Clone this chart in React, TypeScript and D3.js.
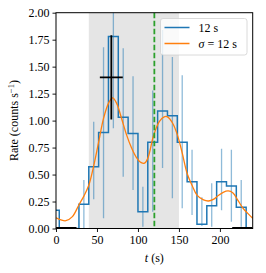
import React, { useRef, useEffect } from "react";
import * as d3 from "d3";

// histogram bins (12 s wide, left edges in s) and rates
const binStarts = [-8, 4, 16, 28, 40, 52, 64, 76, 88, 100, 112, 124, 136, 148, 160, 172, 184, 196, 208, 220, 232];
const binWidth = 12;
const rates = [0.17, 0, 0, 0.224, 0.573, 0.89, 1.78, 1.03, 0.88, 0.156, 0.8, 1.09, 1.045, 0.8, 0.434, 0.04, 0.21, 0.434, 0.394, 0.196, 0];
const errLow = [null, null, null, 0.0, 0.27, 0.095, 0.93, 0.48, 0.357, 0.017, 0.156, 0.56, 0.28, 0.187, 0.125, 0.023, 0.017, 0.17, 0.063, 0.017, null];
const errHigh = [null, null, null, 0.45, 0.99, 1.68, 2.63, 1.67, 1.41, 0.387, 1.28, 1.84, 1.59, 1.42, 0.73, 0.29, 0.42, 0.74, 0.73, 0.45, null];

// smoothed rate, sigma = 12 s
const smoothT = [0, 6, 12, 20, 28, 34, 40, 46, 52, 58, 64, 69, 74, 80, 86, 92, 98, 104, 108, 112, 119, 126, 132, 136, 142, 148, 154, 160, 166, 172, 180, 186, 192, 198, 204, 210, 216, 222, 228, 234, 240];
const smoothV = [0.1, 0.08, 0.072, 0.11, 0.22, 0.3, 0.4, 0.58, 0.8, 1.02, 1.16, 1.21, 1.16, 1.02, 0.87, 0.75, 0.66, 0.61, 0.605, 0.65, 0.86, 0.99, 1.035, 1.035, 0.98, 0.87, 0.7, 0.51, 0.4, 0.31, 0.265, 0.255, 0.27, 0.305, 0.335, 0.348, 0.33, 0.26, 0.19, 0.14, 0.095];

const xTicks = [0, 50, 100, 150, 200];
const yTicks = [0, 0.25, 0.5, 0.75, 1.0, 1.25, 1.5, 1.75, 2.0];

const shadeRange = [40, 150];
const triggerTime = 120;
const peakCross = { t: 67.5, halfWidth: 14, rate: 1.4, low: 1.01, high: 1.79 };
const bkgIntervals = [[0, 25], [215, 240]];

const legendItems = [
  { label: "12 s", color: "#1f77b4" },
  { label: "sigma", color: "#ff7f0e" },
];

const font = "'Liberation Serif', 'DejaVu Serif', serif";

const App = () => {
  const svgRef = useRef(null);
  const width = 266;
  const height = 273;
  const left = 56, right = 252.7, top = 12.7, bottom = 228.5;

  useEffect(() => {
    const svg = d3.select(svgRef.current);
    svg.selectAll("*").remove();

    const x = d3.scaleLinear().domain([0, 240]).range([left, right]);
    const y = d3.scaleLinear().domain([0, 2]).range([bottom, top]);

    svg.append("defs").append("clipPath").attr("id", "plotclip")
      .append("rect")
      .attr("x", left).attr("y", top)
      .attr("width", right - left).attr("height", bottom - top);

    const plot = svg.append("g").attr("clip-path", "url(#plotclip)");

    // shaded interval
    plot.append("rect")
      .attr("x", x(shadeRange[0]))
      .attr("y", top)
      .attr("width", x(shadeRange[1]) - x(shadeRange[0]))
      .attr("height", bottom - top)
      .attr("fill", "#e5e5e5");

    // error bars
    plot.append("g")
      .selectAll("line")
      .data(binStarts.map((b, i) => ({ c: b + binWidth / 2, lo: errLow[i], hi: errHigh[i] })).filter(d => d.lo !== null))
      .enter()
      .append("line")
      .attr("x1", d => x(d.c)).attr("x2", d => x(d.c))
      .attr("y1", d => y(d.lo)).attr("y2", d => y(d.hi))
      .attr("stroke", "#1f77b4")
      .attr("stroke-opacity", 0.5)
      .attr("stroke-width", 1.3);

    // histogram steps
    const stepPts = [];
    binStarts.forEach((b, i) => {
      stepPts.push([b, rates[i]]);
      stepPts.push([b + binWidth, rates[i]]);
    });
    plot.append("path")
      .attr("d", d3.line().x(d => x(d[0])).y(d => y(d[1]))(stepPts))
      .attr("fill", "none")
      .attr("stroke", "#1f77b4")
      .attr("stroke-width", 1.5);

    // smoothed curve
    plot.append("path")
      .attr("d", d3.line().x(d => x(d[0])).y(d => y(d[1])).curve(d3.curveCatmullRom.alpha(0.5))(smoothT.map((t, i) => [t, smoothV[i]])))
      .attr("fill", "none")
      .attr("stroke", "#ff7f0e")
      .attr("stroke-width", 1.3);

    // trigger line
    plot.append("line")
      .attr("x1", x(triggerTime)).attr("x2", x(triggerTime))
      .attr("y1", top).attr("y2", bottom)
      .attr("stroke", "#2ca02c")
      .attr("stroke-width", 1.8)
      .attr("stroke-dasharray", "5.5,2.5");

    // peak cross
    const cross = plot.append("g").attr("stroke", "black").attr("stroke-width", 1.8);
    cross.append("line")
      .attr("x1", x(peakCross.t)).attr("x2", x(peakCross.t))
      .attr("y1", y(peakCross.low)).attr("y2", y(peakCross.high));
    cross.append("line")
      .attr("x1", x(peakCross.t - peakCross.halfWidth)).attr("x2", x(peakCross.t + peakCross.halfWidth))
      .attr("y1", y(peakCross.rate)).attr("y2", y(peakCross.rate));

    // background intervals
    plot.append("g")
      .selectAll("line")
      .data(bkgIntervals)
      .enter()
      .append("line")
      .attr("x1", d => x(d[0])).attr("x2", d => x(d[1]))
      .attr("y1", y(0)).attr("y2", y(0))
      .attr("stroke", "black")
      .attr("stroke-width", 3);

    // axes
    const xAxis = d3.axisBottom(x).tickValues(xTicks).tickSize(3.5).tickPadding(3).tickFormat(d3.format("d"));
    const yAxis = d3.axisLeft(y).tickValues(yTicks).tickSize(3.5).tickPadding(3).tickFormat(d3.format(".2f"));

    const gx = svg.append("g").attr("transform", `translate(0, ${bottom})`).call(xAxis);
    const gy = svg.append("g").attr("transform", `translate(${left}, 0)`).call(yAxis);
    [gx, gy].forEach(g => {
      g.select(".domain").remove();
      g.selectAll("line").attr("stroke", "black").attr("stroke-width", 0.9);
      g.selectAll("text").attr("font-family", font).attr("font-size", 12).attr("fill", "black");
    });

    // frame
    svg.append("rect")
      .attr("x", left).attr("y", top)
      .attr("width", right - left).attr("height", bottom - top)
      .attr("fill", "none")
      .attr("stroke", "black")
      .attr("stroke-width", 1);

    // axis labels
    const xl = svg.append("text")
      .attr("x", (left + right) / 2)
      .attr("y", 262)
      .attr("text-anchor", "middle")
      .attr("font-family", font)
      .attr("font-size", 12);
    xl.append("tspan").attr("font-style", "italic").text("t");
    xl.append("tspan").text(" (s)");

    const yl = svg.append("text")
      .attr("transform", `translate(18, ${(top + bottom) / 2}) rotate(-90)`)
      .attr("text-anchor", "middle")
      .attr("font-family", font)
      .attr("font-size", 12);
    yl.append("tspan").text("Rate (counts s");
    yl.append("tspan").attr("font-size", 8.5).attr("dy", -4.5).text("−1");
    yl.append("tspan").attr("dy", 4.5).text(")");

    // legend
    const lg = svg.append("g");
    lg.append("rect")
      .attr("x", 160.5).attr("y", 18.5)
      .attr("width", 86.5).attr("height", 36.5)
      .attr("rx", 2.5)
      .attr("fill", "white").attr("fill-opacity", 0.8)
      .attr("stroke", "#d0d0d0").attr("stroke-width", 0.8);
    legendItems.forEach((item, i) => {
      const ly = 27.5 + i * 16;
      lg.append("line")
        .attr("x1", 164.5).attr("x2", 189.5)
        .attr("y1", ly).attr("y2", ly)
        .attr("stroke", item.color)
        .attr("stroke-width", 1.5);
      const t = lg.append("text")
        .attr("x", 198.5).attr("y", ly + 4)
        .attr("font-family", font)
        .attr("font-size", 12);
      if (item.label === "sigma") {
        t.append("tspan").attr("font-style", "italic").text("σ");
        t.append("tspan").text(" = 12 s");
      } else {
        t.text(item.label);
      }
    });
  }, []);

  return (
    <svg ref={svgRef} width={width} height={height}
      style={{ position: "absolute", left: 0, top: 0, background: "white" }}></svg>
  );
};

export default App;
